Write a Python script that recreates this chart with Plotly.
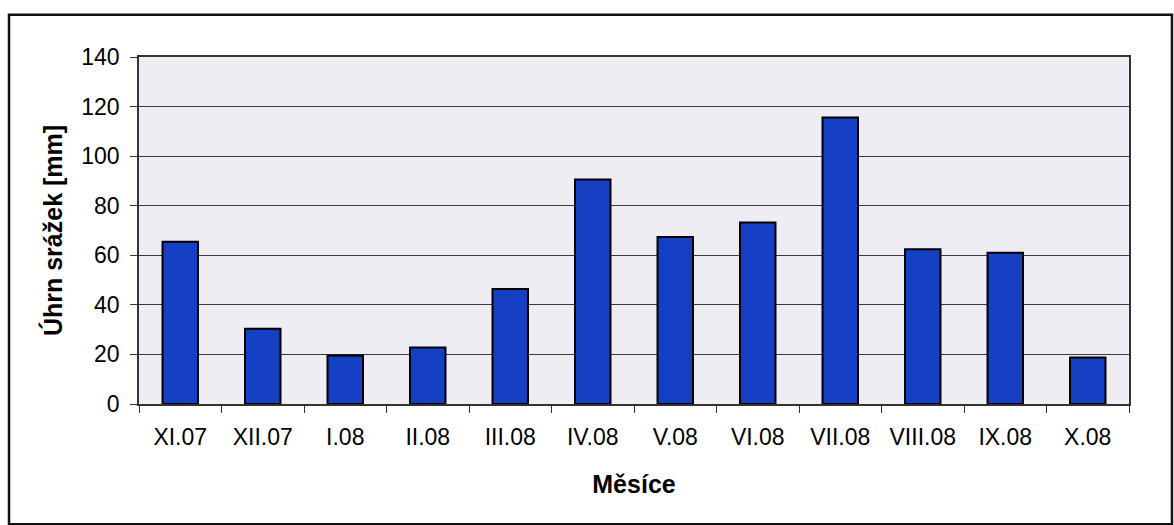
import plotly.graph_objects as go

# Monthly precipitation totals, November 2007 – October 2008
months = ["XI.07", "XII.07", "I.08", "II.08", "III.08", "IV.08",
          "V.08", "VI.08", "VII.08", "VIII.08", "IX.08", "X.08"]
precip_mm = [65.5, 30.4, 19.6, 22.8, 46.4, 90.6,
             67.4, 73.2, 115.6, 62.4, 61.0, 18.8]
y_ticks = [0, 20, 40, 60, 80, 100, 120, 140]

FONT = "Liberation Sans, Arial, sans-serif"

fig = go.Figure(
    go.Bar(
        x=months,
        y=precip_mm,
        marker=dict(color="#1640c4", line=dict(color="#000000", width=2)),
        hoverinfo="x+y",
    )
)

fig.update_layout(
    width=1174,
    height=525,
    margin=dict(l=139, r=45, t=57, b=121, autoexpand=False),
    paper_bgcolor="white",
    plot_bgcolor="#efedf4",
    bargap=0.57,
    showlegend=False,
    font=dict(family=FONT, size=23, color="black"),
)

fig.update_xaxes(
    type="category",
    showline=True,
    linecolor="#333333",
    linewidth=1.5,
    mirror=True,
    ticks="outside",
    tickson="boundaries",
    ticklen=7,
    tickcolor="#333333",
    ticklabelstandoff=12,
    showgrid=False,
    title=dict(text="<b>Měsíce</b>", font=dict(family=FONT, size=25), standoff=26),
    automargin=False,
)

fig.update_yaxes(
    range=[0, 140],
    tickvals=y_ticks,
    showline=True,
    linecolor="#333333",
    linewidth=1.5,
    mirror=True,
    ticks="outside",
    ticklen=7,
    tickcolor="#333333",
    ticklabelstandoff=6,
    showgrid=True,
    gridcolor="#3a3a3a",
    gridwidth=1,
    zeroline=False,
    title=dict(text="<b>Úhrn srážek [mm]</b>", font=dict(family=FONT, size=25), standoff=12),
    automargin=False,
)

# Frame around the whole chart
fig.add_shape(
    type="rect",
    xref="paper", yref="paper",
    x0=-0.1313, x1=1.0434, y0=-0.3468, y1=1.1214,
    line=dict(color="#111111", width=2.5),
    fillcolor="rgba(0,0,0,0)",
    layer="below",
)

fig.write_html("out.html")
